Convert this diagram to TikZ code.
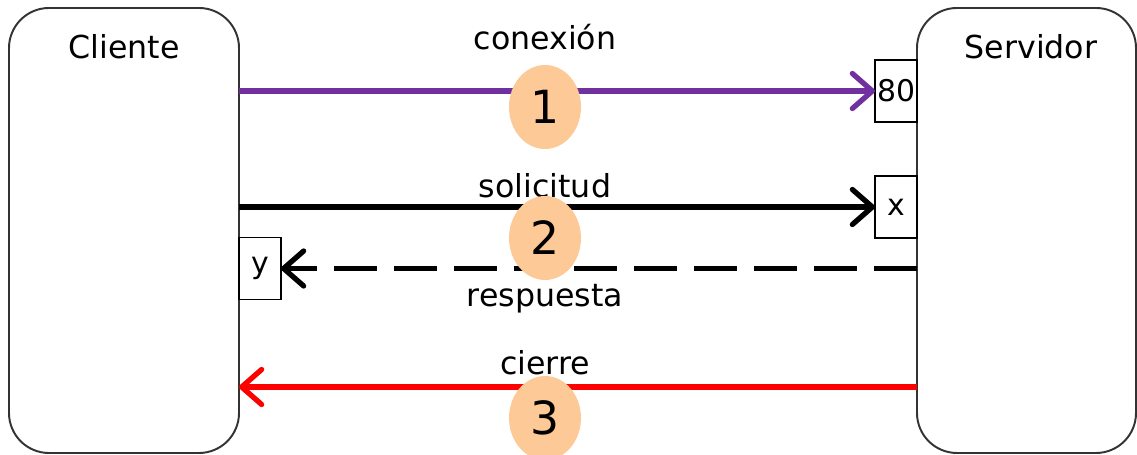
\documentclass[tikz,border=0pt]{standalone}
\usepackage{fontspec}
\setmainfont{DejaVu Sans}
\usetikzlibrary{arrows.meta, shapes.geometric}

\definecolor{msgpurple}{RGB}{112,48,160}
\definecolor{peach}{RGB}{252,201,151}

\begin{document}
\begin{tikzpicture}[
    outer sep = 0mm,
    font = \fontsize{18}{22}\selectfont,
    host/.style = {
      rectangle, draw = black!80, line width = 1.1pt, rounded corners = 8mm,
      anchor = north west, minimum height = 8.9cm,
    },
    port/.style = {
      rectangle, draw = black, semithick, fill = white,
      minimum width = 8.4mm, minimum height = 12.4mm, inner sep = 0mm,
      font = \fontsize{17}{19}\selectfont,
    },
    msg/.style = {
      line width = 3pt,
      -{Straight Barb[length = 4mm, width = 7mm, round]},
    },
    num/.style = {
      ellipse, fill = peach, inner sep = 0mm,
      minimum width = 14.4mm, minimum height = 16.8mm,
      font = \fontsize{26}{30}\selectfont,
    }
  ]

  \path[use as bounding box, clip] (0,0) rectangle (22.74,9.1);

  % hosts
  \node[host, minimum width = 4.6cm] (cli) at (0.18,8.94) {};
  \node[host, minimum width = 4.38cm] (srv) at (18.34,8.94) {};
  \node (clitxt) at (2.48,8.16) {Cliente};
  \node (srvtxt) at (20.62,8.16) {Servidor};

  % ports
  \node[port] (p80) at (17.92,7.28) {80};
  \node[port] (px) at (17.92,4.96) {x};
  \node[port] (py) at (5.2,3.73) {y};
  \coordinate (fin) at (10.9,1.36);

  % labels
  \node (lcon) at (10.9,8.36) {conexión};
  \node (lsol) at (10.9,5.38) {solicitud};
  \node (lres) at (10.9,3.12) {respuesta};
  \node (lcie) at (10.9,1.84) {cierre};

  % messages
  \draw[msg, msgpurple] (cli.east |- p80) to (p80.west);
  \draw[msg] (cli.east |- px) to (px.west);
  \draw[msg, dash pattern = on 8.6mm off 3.4mm] (srv.west |- py) to (py.east);
  \draw[msg, red] (srv.west |- fin) to (cli.east |- fin);

  % steps
  \node[num] (n1) at (10.9,6.96) {1};
  \node[num] (n2) at (10.9,4.34) {2};
  \node[num] (n3) at (10.9,0.74) {3};
\end{tikzpicture}
\end{document}
